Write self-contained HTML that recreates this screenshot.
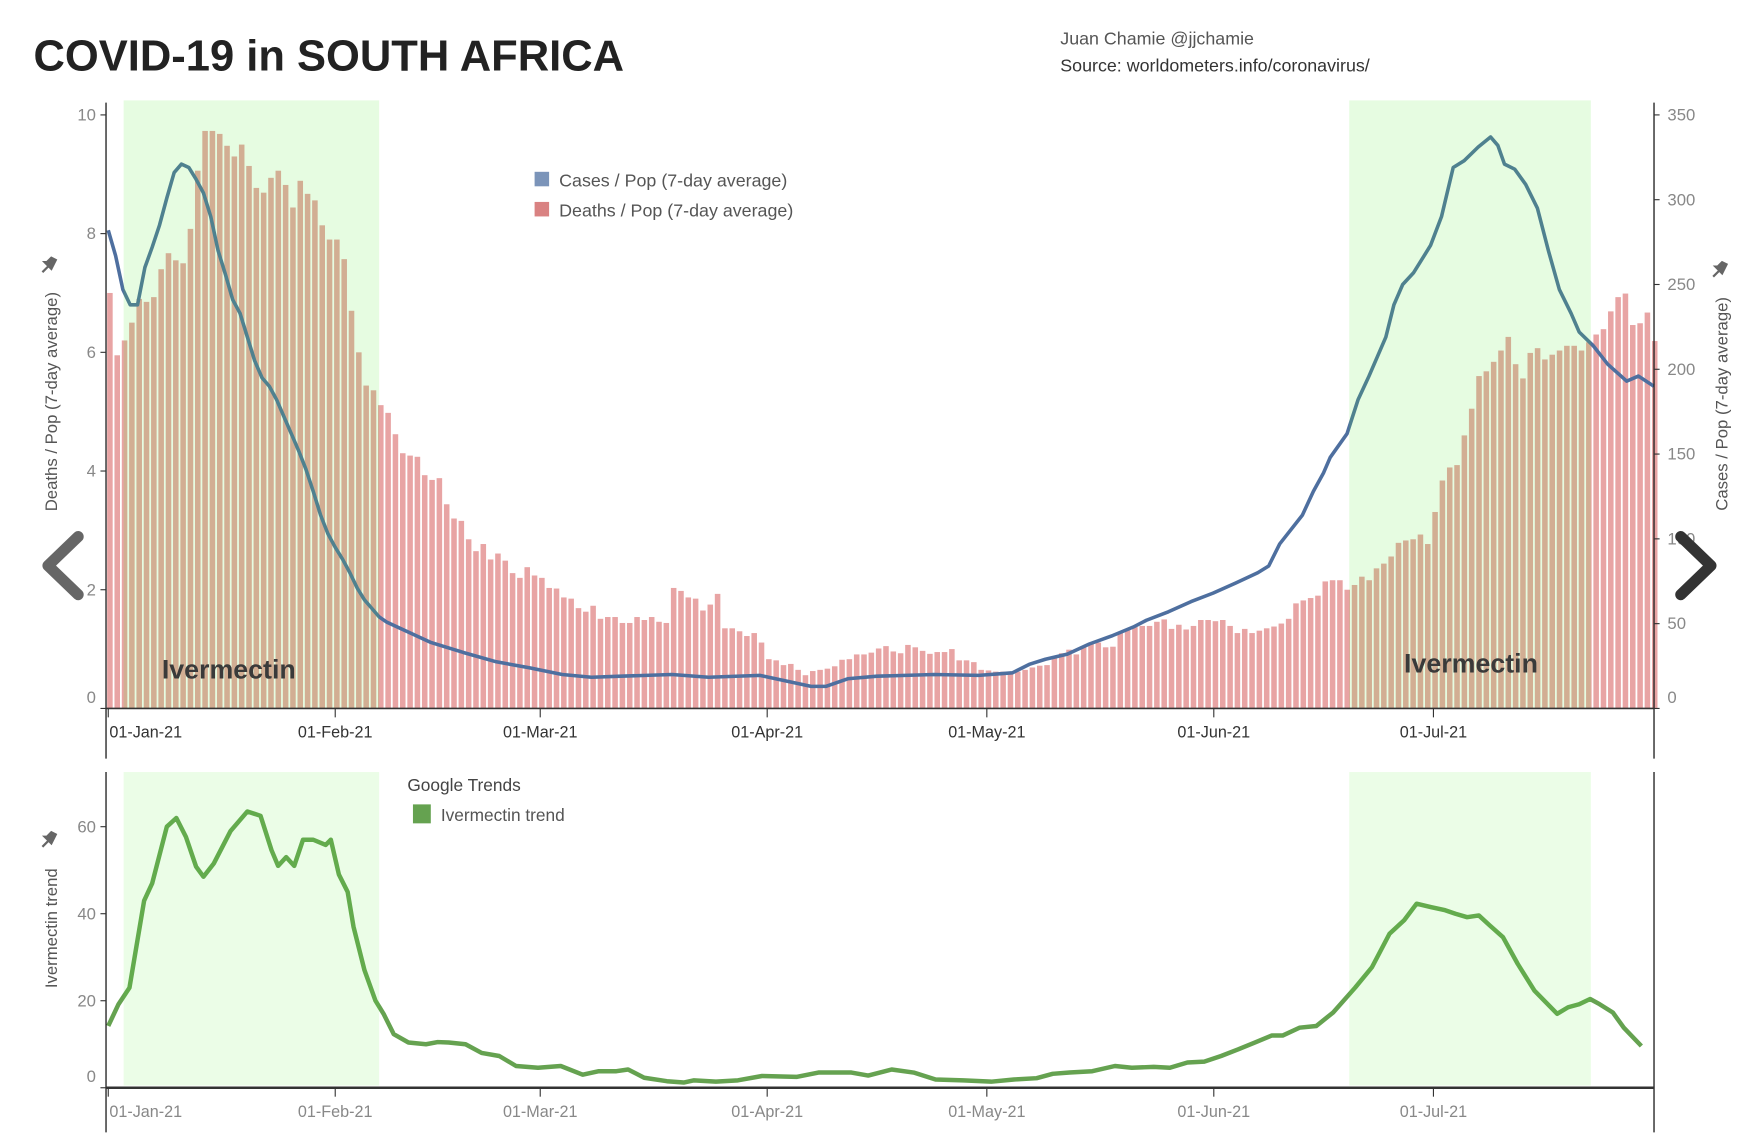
<!DOCTYPE html>
<html><head><meta charset="utf-8"><style>
html,body{margin:0;padding:0;background:#fff;}
svg{display:block;font-family:"Liberation Sans",sans-serif;}
</style></head><body>
<svg id="chart" width="1750" height="1148" viewBox="0 0 1568 1029" preserveAspectRatio="none" xmlns="http://www.w3.org/2000/svg">
<text x="30" y="63" font-size="39" font-weight="bold" fill="#222">COVID-19 in SOUTH AFRICA</text>
<text x="950" y="40" font-size="16" fill="#555">Juan Chamie @jjchamie</text>
<text x="950" y="64" font-size="16" fill="#333">Source: worldometers.info/coronavirus/</text>
<g id="topChart"></g>
<g id="bottomChart"></g>
</svg>
<script>
// ---- data ----
const monthLabels = ["01-Jan-21","01-Feb-21","01-Mar-21","01-Apr-21","01-May-21","01-Jun-21","01-Jul-21"];
const monthDays = [0,31,59,90,120,151,181];
const deathTicks = [0,2,4,6,8,10];
const caseTicks = [0,50,100,150,200,250,300,350];
const trendTicks = [0,20,40,60];
const shadeStart = [2.1,169.5];
const shadeEnd = [37,202.5];
const deaths = [7.0,5.95,6.2,6.5,6.9,6.85,6.93,7.4,7.67,7.55,7.5,8.08,9.06,9.73,9.73,9.68,9.48,9.3,9.5,9.14,8.77,8.69,8.94,9.06,8.82,8.44,8.89,8.67,8.56,8.14,7.9,7.9,7.57,6.7,6.0,5.44,5.36,5.11,4.98,4.62,4.3,4.26,4.24,3.93,3.85,3.88,3.44,3.2,3.16,2.85,2.65,2.77,2.51,2.61,2.49,2.28,2.2,2.38,2.24,2.2,2.03,2.02,1.87,1.85,1.69,1.63,1.73,1.51,1.54,1.54,1.44,1.44,1.54,1.49,1.54,1.46,1.44,2.03,1.98,1.87,1.85,1.65,1.75,1.93,1.35,1.35,1.3,1.22,1.27,1.11,0.83,0.81,0.73,0.75,0.65,0.56,0.63,0.65,0.67,0.71,0.82,0.83,0.91,0.91,0.94,
1.01,1.05,0.96,0.93,1.07,1.03,0.97,0.92,0.95,0.95,1.0,0.81,0.81,0.78,0.65,0.64,0.62,0.62,0.62,0.62,0.65,0.69,0.72,0.73,0.87,0.93,0.99,0.91,1.03,1.09,1.11,1.03,1.04,1.29,1.34,1.37,1.39,1.39,1.46,1.5,1.34,1.41,1.33,1.39,1.49,1.49,1.47,1.49,1.39,1.27,1.34,1.27,1.31,1.35,1.38,1.43,1.51,1.77,1.82,1.86,1.9,2.14,2.16,2.16,2.0,2.08,2.22,2.16,2.36,2.44,2.56,2.79,2.83,2.85,2.93,2.77,3.31,3.84,4.06,4.1,4.6,5.05,5.6,5.68,5.84,6.03,6.26,5.8,5.56,5.99,6.07,5.88,5.96,6.03,6.11,6.11,6.03,6.17,6.3,6.39,6.69,6.93,6.99,6.46,6.49,6.67,6.19];
const caseDays = [0,1,2,3,4,5,6,7,8,9,10,11,12,13,14,15,16,17,18,19,20,21,22,23,24,25,26,27,28,29,30,31,32,33,34,35,36,37,38,39,44,48.5,53,57.5,62,66,70,77,82,89,96,98,101,105,112.8,118.9,123.5,125.8,128,131,134,137.2,140,141.8,144.8,147.9,150.9,154,157,158.5,160,163.1,164.6,166,166.9,169.2,170.7,172.2,174.5,175.6,176.8,178.3,180.6,182.1,183.7,185.2,187.1,188.8,189.8,190.7,192.1,193.6,195.2,196.7,198.2,199.8,200.9,202.8,204.8,207.4,209,211.1];
const caseValues = [282,267,247,238,238,260,272,285,301,316,321,319,312,304,290,270,256,241,233,219,205,195,190,182,172,162,152,141,128,114,103,95,88,80,71,64,59,54,51,49,39,33,27.5,24,20,18.4,19,20,18.4,19.5,13,13,17.5,19,20,19.5,21,26,29,32,38,43,48,52,57,63,68,74,80,84,97,114,128,139,148,162,182,196,219,238,250,257,273,290,319,323,331,337,332,321,318,309,295,270,247,233,222,214,203,193,196,190];
const trendDays = [0,1.4,2.9,4.9,6,8,9.3,10.6,12,13,14.4,16.7,19,20.8,22.3,23.2,24.3,25.4,26.6,28,29.7,30.4,31.5,32.7,33.5,35,36.5,37.6,39,41,43.4,45,46.5,48.8,51,53.4,55.7,58.7,61.8,64.8,67,69.4,71,73.2,76.3,78.6,80,83,86,89.3,94,97,101.5,103.8,107,110,113,116.8,120.6,123.7,126.8,129,131.3,134.4,137.5,139.8,142.8,145,147.4,149.7,152,154.3,156.6,158.9,160.4,162.7,165,167.3,170.3,172.6,175,177,178.7,180.7,182.6,184,185.6,187.2,188.7,190.5,192.5,194.8,197.9,199.4,200.9,202.4,203.7,205.5,207,209.4];
const trendValues = [14.2,19.2,23,43,47,60,62,57.7,50.8,48.5,51.5,59,63.5,62.5,54.6,51,53,51,57,57,55.8,57,49,45,37,27,20,17,12.3,10.4,10,10.5,10.4,10,8,7.3,5,4.6,5,3,3.8,3.8,4.2,2.3,1.5,1.2,1.7,1.4,1.7,2.7,2.5,3.5,3.5,2.8,4.2,3.5,1.9,1.7,1.4,1.9,2.2,3.2,3.5,3.8,5,4.6,4.8,4.6,5.8,6,7.3,8.8,10.4,12,12,13.8,14.2,17.3,23,27.7,35.4,38.5,42.3,41.5,40.8,40,39.2,39.6,37.3,34.6,28.5,22.3,17,18.5,19.2,20.4,19.2,17.3,13.8,9.6];

// ---- axes ----
const NS = "http://www.w3.org/2000/svg";
const X0 = 97, DAY = 6.56, AXL = 95, AXR = 1482;
const xDay = d => X0 + DAY * d;
const yDeath = v => 635 - 53.2 * v;
const yCase = v => 635 - 1.52 * v;
const yTrend = v => 975 - 3.9 * v;
function mk(parent, tag, attrs, text) {
  const e = document.createElementNS(NS, tag);
  for (const k in attrs) e.setAttribute(k, attrs[k]);
  if (text !== undefined) e.textContent = text;
  parent.appendChild(e);
  return e;
}
const gTop = document.getElementById('topChart');
const gBot = document.getElementById('bottomChart');

// bars
deaths.forEach((v, i) => {
  const r = mk(gTop, 'rect', {x: xDay(i) - 1, y: yDeath(v), width: DAY - 1.6, height: 635 - yDeath(v), fill: '#e8a4a4'});
  
  
});
// cases line
let pts = caseDays.map((d, i) => xDay(d) + ',' + yCase(caseValues[i])).join(' ');
const cl = mk(gTop, 'polyline', {points: pts, fill: 'none', stroke: '#4e6f9f', 'stroke-width': 3.2, 'stroke-linejoin': 'round'});


// trend line
pts = trendDays.map((d, i) => xDay(d) + ',' + yTrend(trendValues[i])).join(' ');
const tl = mk(gBot, 'polyline', {points: pts, fill: 'none', stroke: '#65a250', 'stroke-width': 4, 'stroke-linejoin': 'round'});



// shading overlays
shadeStart.forEach((s, i) => {
  const a = mk(gTop, 'rect', {x: xDay(s), y: 90, width: xDay(shadeEnd[i]) - xDay(s), height: 545, fill: 'rgb(88,235,55)', 'fill-opacity': 0.15});
  
  
  const b = mk(gBot, 'rect', {x: xDay(s), y: 692, width: xDay(shadeEnd[i]) - xDay(s), height: 281, fill: 'rgb(88,235,55)', 'fill-opacity': 0.12});
  
  
});

// axes lines
[[gTop, 92, 680, 635], [gBot, 692, 1015, 975]].forEach(([g, y1, y2, yb]) => {
  mk(g, 'line', {x1: AXL, y1: y1, x2: AXL, y2: y2, stroke: '#222', 'stroke-width': 1.2});
  mk(g, 'line', {x1: AXR, y1: y1, x2: AXR, y2: y2, stroke: '#222', 'stroke-width': 1.2});
  mk(g, 'line', {x1: AXL, y1: yb, x2: AXR, y2: yb, stroke: '#333', 'stroke-width': yb > 900 ? 2.2 : 1.5});
  monthDays.forEach((d, i) => {
    mk(g, 'line', {x1: xDay(d), y1: yb, x2: xDay(d), y2: yb + 8, stroke: '#333', 'stroke-width': 1});
    const t = mk(g, 'text', {x: i === 0 ? 98 : xDay(d), y: yb + 26, 'font-size': 14.5, fill: yb > 900 ? '#888' : '#333', 'text-anchor': i === 0 ? 'start' : 'middle'}, monthLabels[i]);
    
    
  });
});
deathTicks.forEach(v => {
  mk(gTop, 'line', {x1: AXL - 5, y1: yDeath(v), x2: AXL, y2: yDeath(v), stroke: '#333'});
  const t = mk(gTop, 'text', {x: 86, y: (v === 0 ? yDeath(v) - 5 : yDeath(v) + 5), 'font-size': 15, fill: '#888', 'text-anchor': 'end'}, v);
  
  
});
caseTicks.forEach(v => {
  mk(gTop, 'line', {x1: AXR, y1: yCase(v), x2: AXR + 5, y2: yCase(v), stroke: '#333'});
  const t = mk(gTop, 'text', {x: 1494, y: (v === 0 ? yCase(v) - 5 : yCase(v) + 5), 'font-size': 15, fill: '#888'}, v);
  
  
});
trendTicks.forEach(v => {
  mk(gBot, 'line', {x1: AXL - 5, y1: yTrend(v), x2: AXL, y2: yTrend(v), stroke: '#333'});
  const t = mk(gBot, 'text', {x: 86, y: (v === 0 ? yTrend(v) - 5 : yTrend(v) + 5), 'font-size': 15, fill: '#888', 'text-anchor': 'end'}, v);
  
  
});

// labels / legends
function txt(g, name, x, y, s, attrs) {
  const t = mk(g, 'text', Object.assign({x: x, y: y}, attrs), s);
  
  
  return t;
}
txt(gTop, 'ivermectin-label', 145, 608, 'Ivermectin', {'font-size': 24, 'font-weight': 'bold', fill: '#3a3a3a'});
txt(gTop, 'ivermectin-label', 1258, 603, 'Ivermectin', {'font-size': 24, 'font-weight': 'bold', fill: '#3a3a3a'});
let r = mk(gTop, 'rect', {x: 479, y: 154, width: 13, height: 13, fill: '#7b94b9'});


r = mk(gTop, 'rect', {x: 479, y: 181, width: 13, height: 13, fill: '#d98282'});


txt(gTop, 'legend-entry-cases', 501, 167, 'Cases / Pop (7-day average)', {'font-size': 16, fill: '#555'});
txt(gTop, 'legend-entry-deaths', 501, 194, 'Deaths / Pop (7-day average)', {'font-size': 16, fill: '#555'});
txt(gTop, 'left-y-axis-title', 0, 0, 'Deaths / Pop (7-day average)', {'font-size': 15, fill: '#555', 'text-anchor': 'middle', transform: 'translate(51,360) rotate(-90)'});
txt(gTop, 'right-y-axis-title', 0, 0, 'Cases / Pop (7-day average)', {'font-size': 15, fill: '#555', 'text-anchor': 'middle', transform: 'translate(1548,362) rotate(-90)'});
txt(gBot, 'legend-title', 365, 709, 'Google Trends', {'font-size': 15.5, fill: '#444'});
r = mk(gBot, 'rect', {x: 370, y: 721, width: 16, height: 17, fill: '#65a250'});


txt(gBot, 'legend-entry-trend', 395, 736, 'Ivermectin trend', {'font-size': 15.5, fill: '#555'});
txt(gBot, 'trend-y-axis-title', 0, 0, 'Ivermectin trend', {'font-size': 15, fill: '#555', 'text-anchor': 'middle', transform: 'translate(51,832) rotate(-90)'});

// pins
[[44, 237], [1541, 241], [44, 752]].forEach(([x, y]) => {
  const p = mk(gTop, 'path', {d: `M${x-6},${y+7} L${x-1},${y+2} M${x-4},${y-2} L${x+2},${y+4} L${x+6},${y-4} L${x+2},${y-6} L${x-2},${y-2} Z`, stroke: '#666', 'stroke-width': 2, fill: '#666'});
  
  
});
// chevrons
let c = mk(gTop, 'polyline', {points: '70,481 43,507 70,533', fill: 'none', stroke: '#666', 'stroke-width': 10, 'stroke-linecap': 'round', 'stroke-linejoin': 'round'});


c = mk(gTop, 'polyline', {points: '1506,481 1533,507 1506,533', fill: 'none', stroke: '#333', 'stroke-width': 10, 'stroke-linecap': 'round', 'stroke-linejoin': 'round'});


</script>
</body></html>
